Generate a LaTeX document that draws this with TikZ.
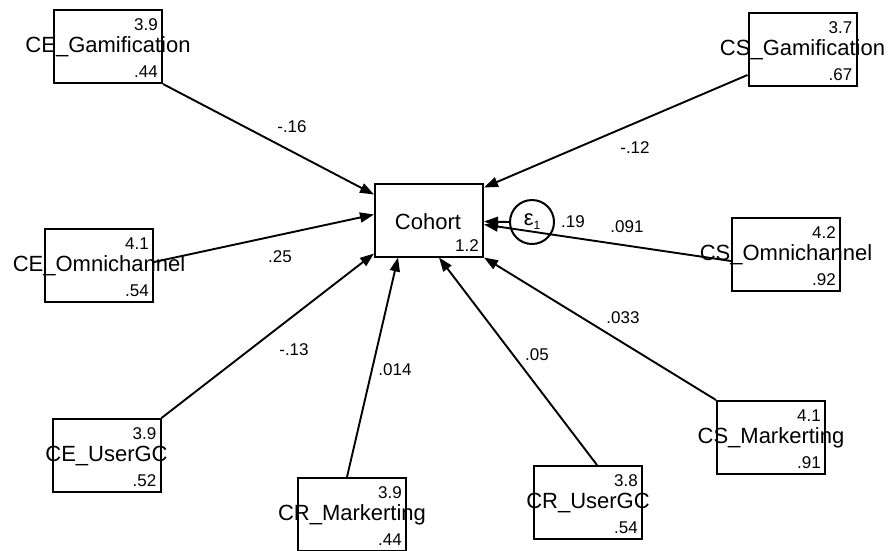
\documentclass[tikz,border=0pt]{standalone}
\usepackage{fontspec}
\setmainfont{Liberation Sans}
\usetikzlibrary{arrows.meta,calc}
\tikzset{
  var/.style={draw, line width=2pt, minimum width=108pt, minimum height=73pt, inner sep=0pt},
  lbl/.style={font=\fontsize{22}{26}\selectfont, inner sep=0pt},
  num/.style={font=\fontsize{17}{20}\selectfont, inner sep=0pt},
  elbl/.style={font=\fontsize{17}{20}\selectfont, inner sep=0pt},
  conn/.style={line width=1.9pt, -{Triangle[length=14pt,width=10pt]}},
}
\newcommand{\mybox}[5]{%
  \node[var] (#1) at (#2) {};
  \node[lbl] (#1l) at (#1.center) {#3};
  \node[num, anchor=east] (#1t) at ($(#1.north east)+(-5,16)$) {#4};
  \node[num, anchor=east] (#1b) at ($(#1.south east)+(-5,-12)$) {#5};
}
\begin{document}
\begin{tikzpicture}[x=1pt,y=-1pt]
\useasboundingbox (0,0) rectangle (889,550);
% variables
\mybox{CEG}{108,46.5}{CE\_Gamification}{3.9}{.44}
\mybox{CEO}{99,265.5}{CE\_Omnichannel}{4.1}{.54}
\mybox{CEU}{106.5,455.5}{CE\_UserGC}{3.9}{.52}
\mybox{CRM}{352,514.5}{CR\_Markerting}{3.9}{.44}
\mybox{CRU}{588,502.5}{CR\_UserGC}{3.8}{.54}
\mybox{CSM}{771,437.5}{CS\_Markerting}{4.1}{.91}
\mybox{CSO}{786,254.5}{CS\_Omnichannel}{4.2}{.92}
\mybox{CSG}{802.5,49.5}{CS\_Gamification}{3.7}{.67}
% outcome
\node[var] (coh) at (429,220) {};
\node[lbl] (cohl) at (428,222) {Cohort};
\node[num, anchor=east] (cohb) at ($(coh.south east)+(-5,-12)$) {1.2};
% error
\node[circle, draw, line width=2pt, minimum size=44pt, inner sep=0pt] (eps) at (532,222) {};
\node[inner sep=0pt] (epsl) at (eps.center) {\fontsize{22}{24}\selectfont ε\raisebox{-4pt}{\fontsize{12}{14}\selectfont 1}};
\node[elbl] (epsv) at (573,222) {.19};
% connectors
\draw[conn] (CEG.south east) -- ($(coh.north west)+(0,12)$);
\draw[conn] ($(CEO.east)+(0,-3.5)$) -- ($(coh.north west)+(0,32)$);
\draw[conn] (CEU.north east) -- ($(coh.south west)+(0,-4)$);
\draw[conn] ($(CRM.north)+(-5,0)$) -- ($(coh.south west)+(24,0)$);
\draw[conn] ($(CRU.north)+(9,0)$) -- ($(coh.south west)+(65,0)$);
\draw[conn] (CSM.north west) -- (coh.south east);
\draw[conn] ($(CSO.west)+(0,6.5)$) -- ($(coh.north east)+(0,42)$);
\draw[conn] ($(CSG.west)+(0,25.5)$) -- ($(coh.north east)+(0,5)$);
\draw[conn] (eps.west) -- ($(coh.north east)+(0,39)$);
% path labels
\node[elbl] (l1) at (292,127) {-.16};
\node[elbl] (l2) at (280,257) {.25};
\node[elbl] (l3) at (294,350) {-.13};
\node[elbl] (l4) at (395,370) {.014};
\node[elbl] (l5) at (537,355) {.05};
\node[elbl] (l6) at (623,318) {.033};
\node[elbl] (l7) at (627,227) {.091};
\node[elbl] (l8) at (635,148) {-.12};
\end{tikzpicture}
\end{document}
